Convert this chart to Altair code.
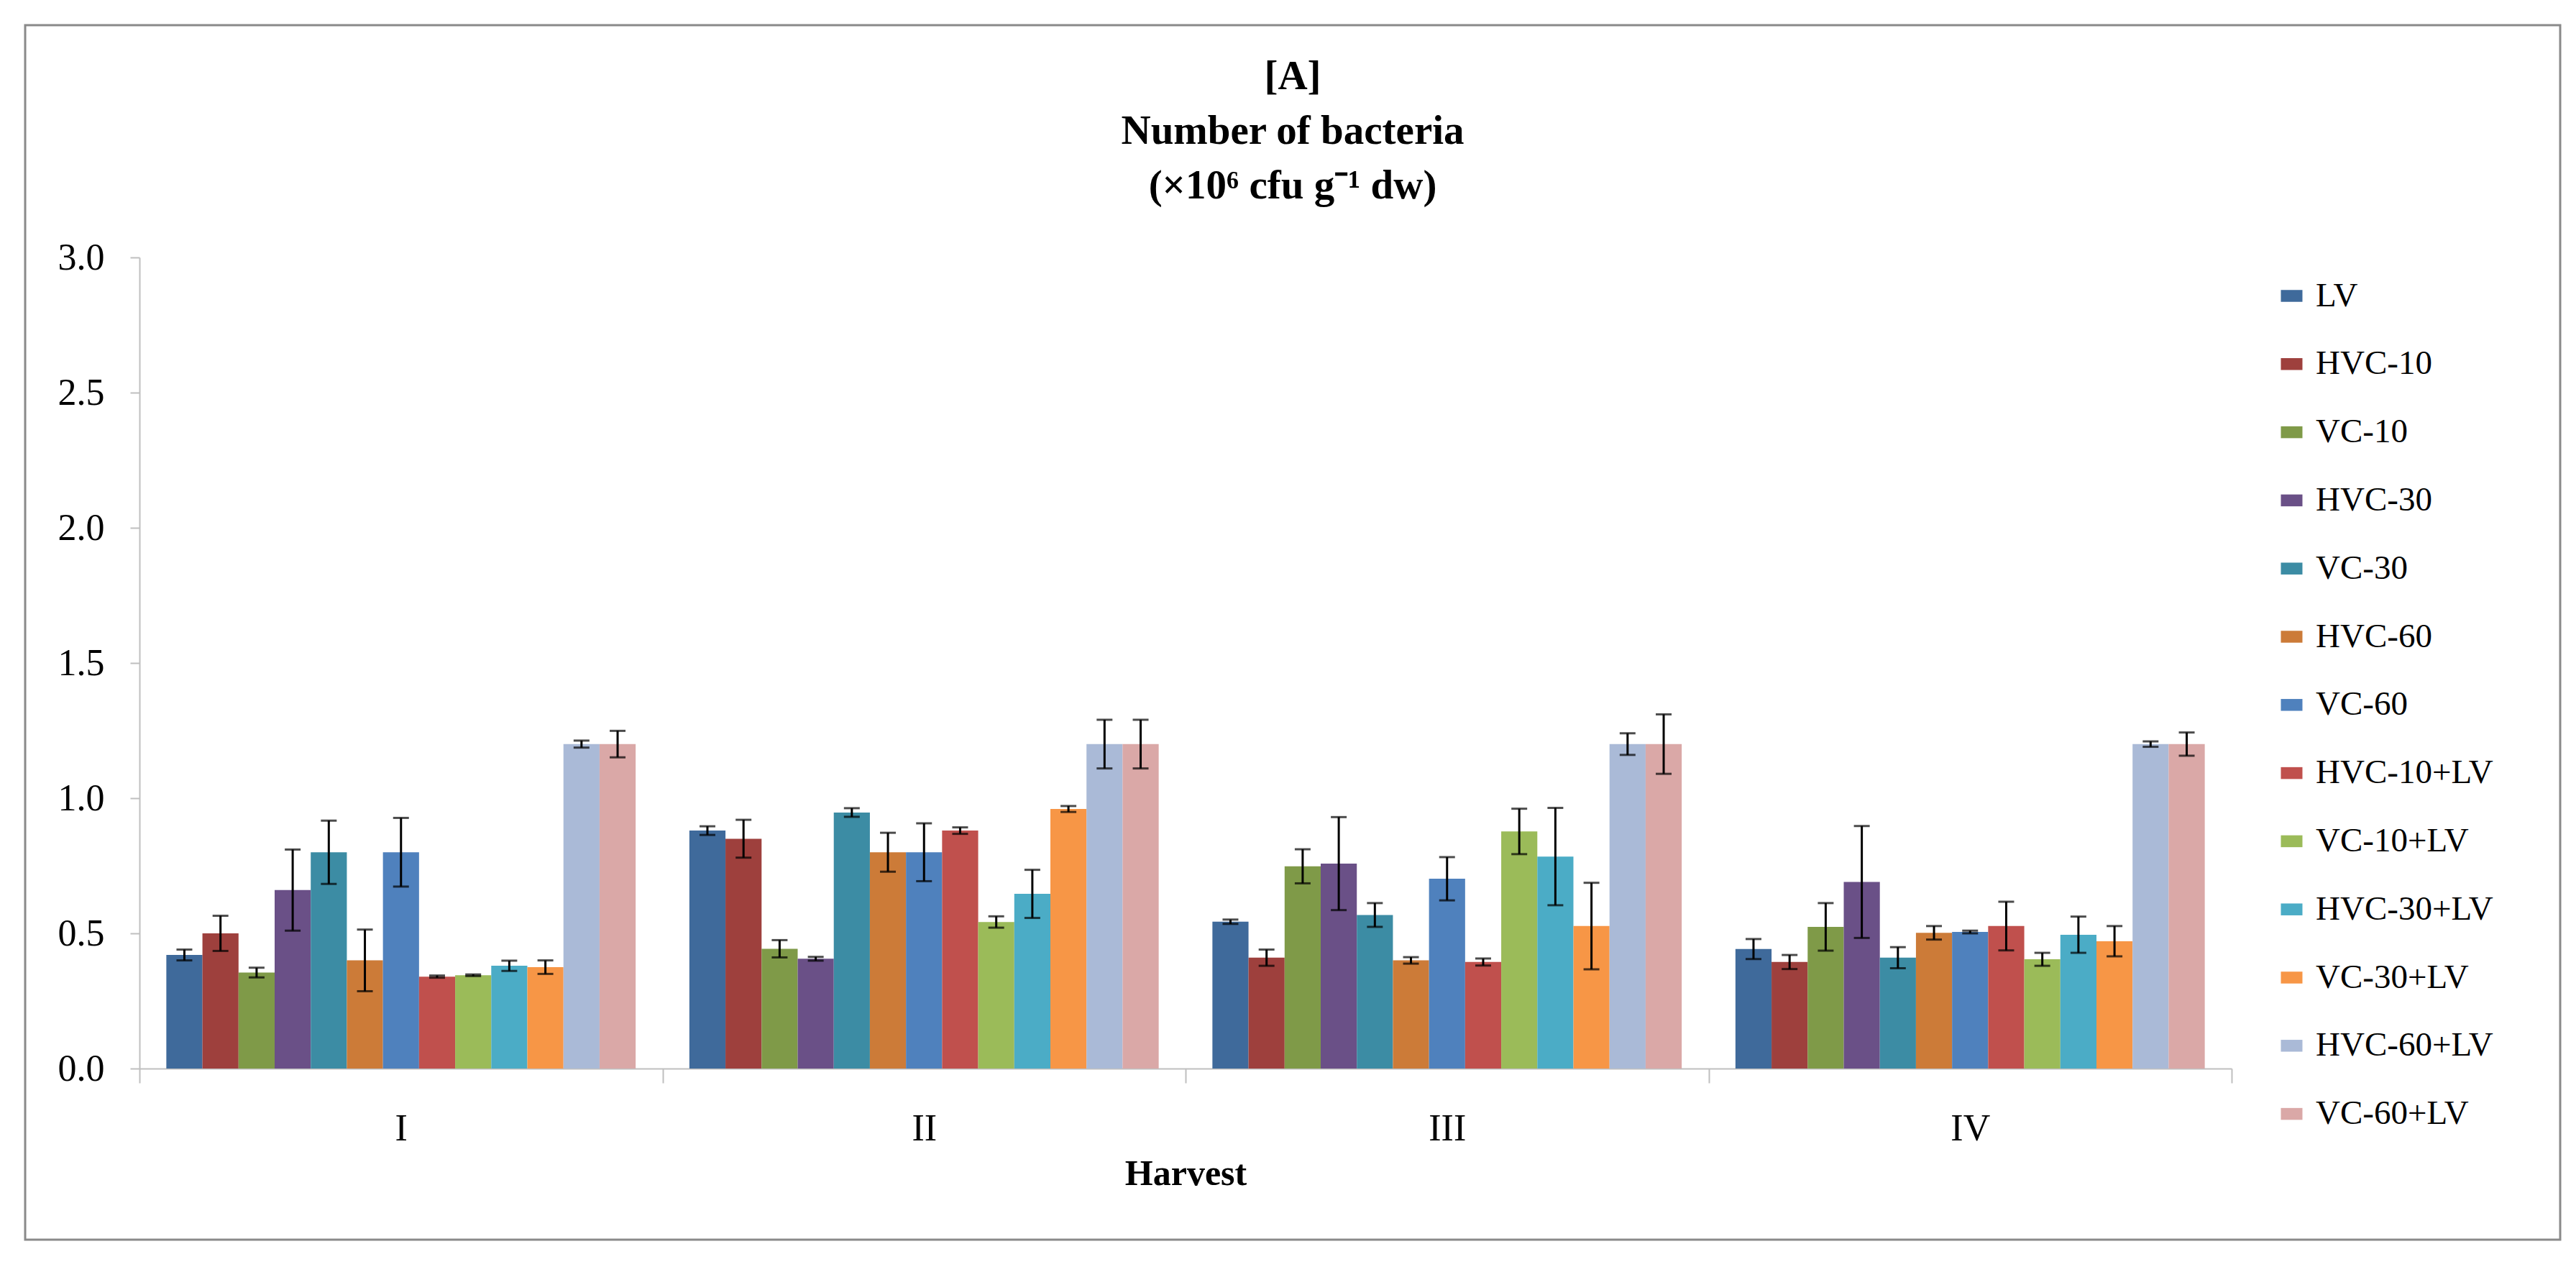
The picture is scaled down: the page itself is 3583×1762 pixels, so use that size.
import altair as alt
import pandas as pd

harvests = ["I", "II", "III", "IV"]
treatments = ["LV", "HVC-10", "VC-10", "HVC-30", "VC-30", "HVC-60", "VC-60",
              "HVC-10+LV", "VC-10+LV", "HVC-30+LV", "VC-30+LV", "HVC-60+LV", "VC-60+LV"]
colors = ["#3F6A9B", "#9E403D", "#7F9A48", "#6A5087", "#3C8CA4", "#CC7B38", "#4F81BD",
          "#C0504D", "#9BBB59", "#4BACC6", "#F79646", "#AABAD7", "#DAA8A7"]

mean_I = [0.42, 0.50, 0.355, 0.66, 0.80, 0.40, 0.80, 0.34, 0.345, 0.38, 0.375, 1.20, 1.20]
err_I = [0.02, 0.065, 0.018, 0.15, 0.117, 0.114, 0.127, 0.004, 0.003, 0.019, 0.025, 0.013, 0.049]
mean_II = [0.88, 0.85, 0.443, 0.406, 0.947, 0.80, 0.80, 0.88, 0.542, 0.646, 0.96, 1.20, 1.20]
err_II = [0.016, 0.07, 0.032, 0.007, 0.016, 0.072, 0.107, 0.012, 0.021, 0.089, 0.011, 0.09, 0.09]
mean_III = [0.543, 0.41, 0.748, 0.758, 0.568, 0.40, 0.702, 0.394, 0.877, 0.784, 0.527, 1.20, 1.20]
err_III = [0.008, 0.03, 0.063, 0.172, 0.044, 0.012, 0.08, 0.013, 0.084, 0.18, 0.16, 0.04, 0.11]
mean_IV = [0.442, 0.394, 0.524, 0.69, 0.41, 0.502, 0.505, 0.527, 0.404, 0.495, 0.471, 1.20, 1.20]
err_IV = [0.037, 0.026, 0.088, 0.207, 0.039, 0.025, 0.005, 0.09, 0.024, 0.067, 0.056, 0.01, 0.043]

y_ticks = [0.0, 0.5, 1.0, 1.5, 2.0, 2.5, 3.0]

rows = []
for h, ms, es in zip(harvests, [mean_I, mean_II, mean_III, mean_IV], [err_I, err_II, err_III, err_IV]):
    for t, m, e in zip(treatments, ms, es):
        rows.append({"harvest": h, "treatment": t, "mean": m, "lo": m - e, "hi": m + e})
df = pd.DataFrame(rows)

W, H = 2910, 1128
FONT = "Liberation Serif"

x_enc = alt.X("harvest:N", sort=harvests,
              scale=alt.Scale(paddingInner=0, paddingOuter=0),
              axis=alt.Axis(title="Harvest", labelAngle=0, tickBand="extent",
                            tickSize=20, labelPadding=38, titlePadding=12,
                            titleFontSize=50, titleFontWeight="bold"))
xo_enc = alt.XOffset("treatment:N", sort=treatments,
                     scale=alt.Scale(paddingInner=0, paddingOuter=0.744))

base = alt.Chart(df)

bars = base.mark_bar().encode(
    x=x_enc,
    xOffset=xo_enc,
    y=alt.Y("mean:Q", scale=alt.Scale(domain=[0, 3], nice=False),
            axis=alt.Axis(title=None, values=y_ticks, format=".1f", grid=False,
                          tickSize=13, labelPadding=36)),
    color=alt.Color("treatment:N", sort=treatments,
                    scale=alt.Scale(domain=treatments, range=colors),
                    legend=alt.Legend(title=None, orient="none", legendX=2970, legendY=30,
                                      symbolType="M-1,-0.55H1V0.55H-1Z", symbolSize=900,
                                      symbolStrokeWidth=0, labelLimit=0,
                                      labelFont=FONT, labelFontSize=47, labelOffset=10,
                                      rowPadding=46.8, labelColor="black")),
)

err_rule = base.mark_rule(color="black", strokeWidth=3).encode(
    x=x_enc, xOffset=xo_enc, y="lo:Q", y2="hi:Q")
cap_lo = base.mark_tick(color="black", thickness=3, size=22).encode(
    x=x_enc, xOffset=xo_enc, y="lo:Q")
cap_hi = base.mark_tick(color="black", thickness=3, size=22).encode(
    x=x_enc, xOffset=xo_enc, y="hi:Q")

frame = alt.Chart(pd.DataFrame({"f": [0]})).mark_rect(
    fillOpacity=0, stroke="#8A8A8A", strokeWidth=3).encode(
    x=alt.value(-159), x2=alt.value(3367), y=alt.value(-323), y2=alt.value(1366))

chart = alt.layer(frame, bars, err_rule, cap_lo, cap_hi).properties(
    width=W, height=H,
    background="white",
    padding={"left": 25, "top": 25, "right": 5, "bottom": 5},
    title=alt.TitleParams(
        text=["[A]", "Number of bacteria", "(×10⁶ cfu g⁻¹ dw)"],
        font=FONT, fontSize=57, fontWeight="bold", color="black",
        anchor="middle", frame="bounds", offset=0, dy=254, lineHeight=76),
).configure_view(stroke=None).configure_axis(
    domainColor="#BFBFBF", domainWidth=2, tickColor="#BFBFBF", tickWidth=2,
    labelFont=FONT, labelFontSize=52, labelColor="black",
    titleFont=FONT, titleColor="black",
)

chart.save("out.html", embed_options={"renderer": "svg", "actions": False})
